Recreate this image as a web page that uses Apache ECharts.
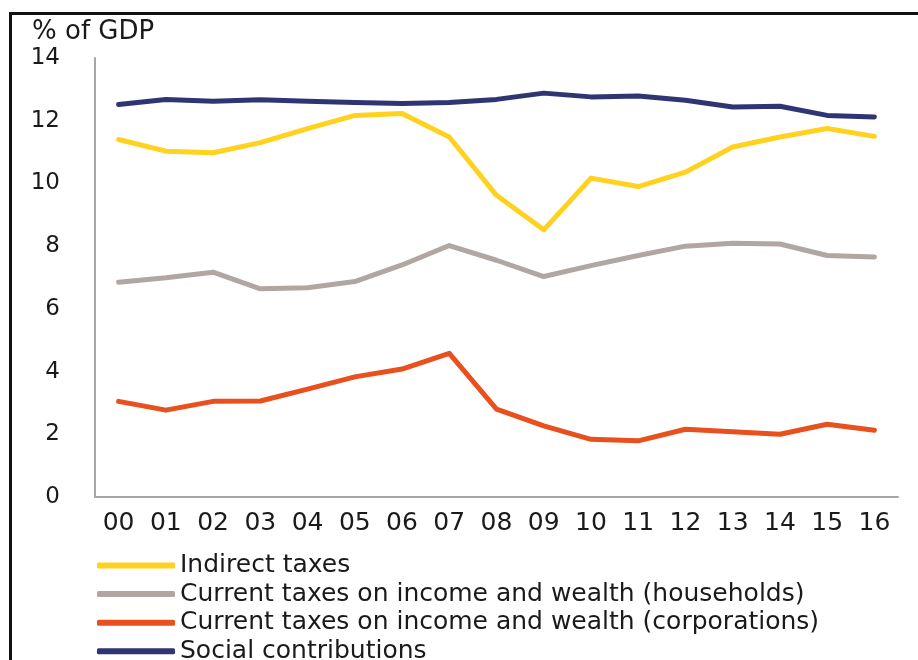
<!DOCTYPE html>
<html>
<head>
<meta charset="utf-8">
<script src="https://cdn.jsdelivr.net/npm/echarts@6/dist/echarts.min.js"></script>
<style>
  html, body { margin: 0; padding: 0; background: #fff; }
  #chart { width: 918px; height: 660px; }
  /* frame: only top and left edges are visible in the picture */
  .frame {
    position: absolute; left: 9px; top: 12px; right: -10px; bottom: -10px;
    border-top: 3px solid #111; border-left: 3px solid #111;
    pointer-events: none;
  }
</style>
</head>
<body>
<div id="chart"></div>
<div class="frame"></div>
<script>
const years = ['00', '01', '02', '03', '04', '05', '06', '07', '08', '09', '10', '11', '12', '13', '14', '15', '16']

const indirectTaxes = [11.4, 11.03, 10.98, 11.3, 11.75, 12.17, 12.23, 11.48, 9.62, 8.52, 10.17, 9.9, 10.36, 11.16, 11.48, 11.75, 11.5]
const householdTaxes = [6.85, 6.99, 7.17, 6.64, 6.67, 6.87, 7.4, 8.02, 7.55, 7.03, 7.38, 7.7, 8.0, 8.09, 8.07, 7.7, 7.65]
const corporateTaxes = [3.05, 2.77, 3.05, 3.06, 3.44, 3.83, 4.08, 4.58, 2.8, 2.27, 1.84, 1.79, 2.16, 2.08, 2.0, 2.32, 2.13]
const socialContrib = [12.52, 12.68, 12.62, 12.67, 12.62, 12.58, 12.55, 12.58, 12.68, 12.88, 12.76, 12.79, 12.65, 12.44, 12.46, 12.17, 12.12]

const seriesNames = [
  'Indirect taxes',
  'Current taxes on income and wealth (households)',
  'Current taxes on income and wealth (corporations)',
  'Social contributions'
]
const seriesColors = ['#FFD21F', '#B1A7A2', '#E8501E', '#2F3472']

const chart = echarts.init(document.getElementById('chart'))

// the picture's lettering is wide, DejaVu fits its proportions best
const textFont = 'DejaVu Sans'

function lineSeries(name, data, color) {
  return {
    name: name,
    type: 'line',
    data: data,
    showSymbol: false,
    symbol: 'none',
    lineStyle: { width: 5, color: color, cap: 'round', join: 'round' },
    itemStyle: { color: color },
    emphasis: { disabled: true }
  }
}

chart.setOption({
  animation: false,
  backgroundColor: '#fff',
  grid: { left: 95, right: 20, top: 58, bottom: 163 },
  title: {
    text: '% of GDP',
    left: 32, top: 19,
    padding: 0,
    textStyle: { fontFamily: textFont, fontSize: 26, fontWeight: 'normal', color: '#1a1a1a' }
  },
  legend: {
    orient: 'vertical',
    left: 97, top: 553,
    height: 140, // keep all four rows in one column, the last one runs off the page edge
    padding: 0,
    icon: 'roundRect',
    itemWidth: 78,
    itemHeight: 6,
    itemGap: 3.6,
    data: seriesNames,
    textStyle: { fontFamily: textFont, fontSize: 25, color: '#1a1a1a' }
  },
  xAxis: {
    type: 'category',
    data: years,
    boundaryGap: true,
    axisLine: { lineStyle: { color: '#A6A6A6', width: 2 } },
    axisTick: { show: false },
    axisLabel: { fontFamily: textFont, fontSize: 25, color: '#1a1a1a', margin: 14 }
  },
  yAxis: {
    type: 'value',
    min: 0, max: 14, interval: 2,
    axisLine: { show: true, lineStyle: { color: '#A6A6A6', width: 2 } },
    axisTick: { show: false },
    splitLine: { show: false },
    axisLabel: { fontFamily: textFont, fontSize: 23, color: '#1a1a1a', margin: 35 }
  },
  series: [
    lineSeries(seriesNames[0], indirectTaxes, seriesColors[0]),
    lineSeries(seriesNames[1], householdTaxes, seriesColors[1]),
    lineSeries(seriesNames[2], corporateTaxes, seriesColors[2]),
    lineSeries(seriesNames[3], socialContrib, seriesColors[3])
  ]
})
</script>
</body>
</html>
